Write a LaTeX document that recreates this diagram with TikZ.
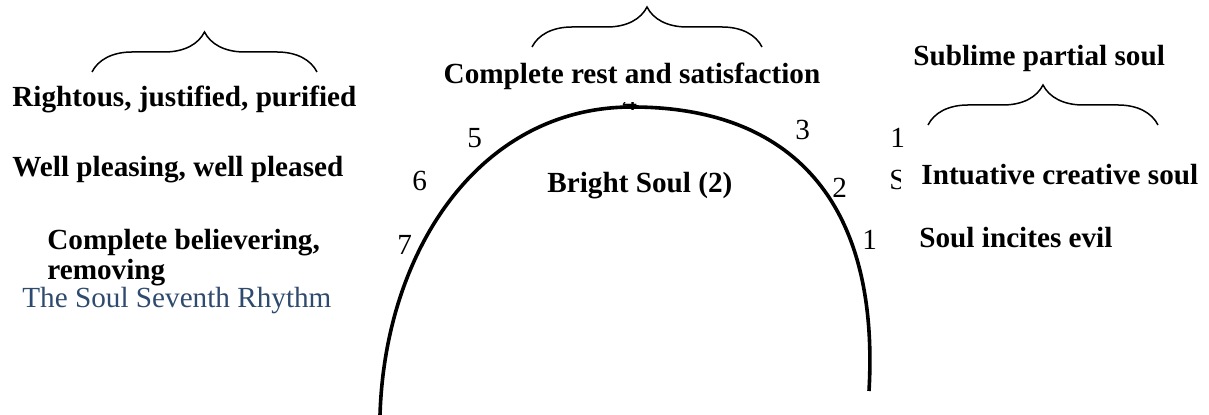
\documentclass[tikz,border=0pt]{standalone}
\usepackage{fontspec}
\setmainfont{Liberation Serif}
\usepackage{xcolor}
\usetikzlibrary{decorations.pathreplacing}
\definecolor{rhythmblue}{RGB}{46,74,110}
\tikzset{
  lbl/.style={font=\fontsize{14.6}{17}\selectfont\bfseries,anchor=base west,inner sep=0pt},
  num/.style={font=\fontsize{14.6}{17}\selectfont,anchor=base west,inner sep=0pt},
  brc/.style={decorate,decoration={brace,amplitude=20pt},line width=0.75pt},
  soularc/.style={line width=1.8pt},
}

\begin{document}
\begin{tikzpicture}[x=0.5pt,y=-0.5pt]
\useasboundingbox (0,0) rectangle (1209,415);
% braces
\draw[brc] (92,72) -- (317,72);
\draw[brc] (532,47) -- (762,47);
\draw[brc] (928,125) -- (1158,125);
% the arc
\coordinate (arcl) at (380,415);
\coordinate (arctop) at (632,107);
\coordinate (arcr) at (869,391);
\draw[soularc] (arcl) .. controls (385,250) and (480,107) .. (arctop)
  .. controls (790,107) and (880,200) .. (arcr);
% numbers round the arc
\node[num] (n5) at (467,148) {5};
\node[num] (n6) at (412,191) {6};
\node[num] (n7) at (397,255) {7};
\node[num] (n3) at (795,140) {3};
\node[num] (n2) at (832,198) {2};
\node[num] (n1) at (862,250) {1};
\node[num] (n1b) at (890,148) {1};
\begin{scope}
  \clip (600,103) rectangle (660,120);
  \node[num] (n4) at (622,111) {4};
\end{scope}
\begin{scope}
  \clip (880,160) rectangle (900,200);
  \node[num] (ns) at (889,190) {S};
\end{scope}
% labels
\node[lbl,anchor=base] (rest) at (632,84) {Complete rest and satisfaction};
\node[lbl] (sublime) at (913,66) {Sublime partial soul};
\node[lbl] (right) at (12,107) {Rightous, justified, purified};
\node[lbl] (well) at (12,177) {Well pleasing, well pleased};
\node[lbl,align=left] (believ) at (47,280) {Complete believering,\\[-2pt]removing};
\node[lbl] (bright) at (547,193) {Bright Soul (2)};
\node[lbl] (intu) at (921,185) {Intuative creative soul};
\node[lbl] (evil) at (919,248) {Soul incites evil};
\node[num,text=rhythmblue] (title) at (22,308) {The Soul Seventh Rhythm};
\end{tikzpicture}
\end{document}
